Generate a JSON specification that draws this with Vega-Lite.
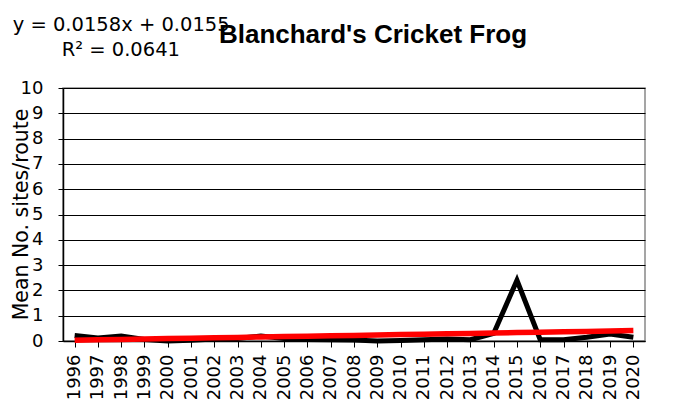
{
  "$schema": "https://vega.github.io/schema/vega-lite/v6.json",
  "width": 582,
  "height": 253,
  "autosize": {"type": "none"},
  "padding": {"left": 63, "top": 88, "right": 29, "bottom": 73},
  "background": "white",
  "config": {
    "font": "DejaVu Sans",
    "view": {"stroke": "#888888", "strokeWidth": 1.5},
    "axisY": {
      "titleFontSize": 20.5,
      "titleFontWeight": "normal",
      "titleColor": "black",
      "titleX": -42,
      "titleY": 126,
      "titleBaseline": "middle",
      "titleAlign": "center",
      "titleAngle": -90,
      "labelOverlap": false,
      "labelFontSize": 18,
      "labelColor": "black",
      "labelPadding": 15,
      "tickColor": "black",
      "tickSize": 5,
      "domainColor": "black",
      "domainWidth": 1.5,
      "grid": true,
      "gridColor": "black",
      "gridWidth": 1
    }
  },
  "data": {
    "values": [
      {"year": "1996", "mean": 0.22, "trend": 0.031},
      {"year": "1997", "mean": 0.12, "trend": 0.047},
      {"year": "1998", "mean": 0.2, "trend": 0.063},
      {"year": "1999", "mean": 0.06, "trend": 0.079},
      {"year": "2000", "mean": 0.0, "trend": 0.095},
      {"year": "2001", "mean": 0.03, "trend": 0.110},
      {"year": "2002", "mean": 0.08, "trend": 0.126},
      {"year": "2003", "mean": 0.1, "trend": 0.142},
      {"year": "2004", "mean": 0.2, "trend": 0.158},
      {"year": "2005", "mean": 0.1, "trend": 0.174},
      {"year": "2006", "mean": 0.06, "trend": 0.189},
      {"year": "2007", "mean": 0.05, "trend": 0.205},
      {"year": "2008", "mean": 0.04, "trend": 0.221},
      {"year": "2009", "mean": 0.0, "trend": 0.237},
      {"year": "2010", "mean": 0.02, "trend": 0.253},
      {"year": "2011", "mean": 0.05, "trend": 0.268},
      {"year": "2012", "mean": 0.08, "trend": 0.284},
      {"year": "2013", "mean": 0.05, "trend": 0.300},
      {"year": "2014", "mean": 0.3, "trend": 0.316},
      {"year": "2015", "mean": 2.4, "trend": 0.332},
      {"year": "2016", "mean": 0.05, "trend": 0.347},
      {"year": "2017", "mean": 0.05, "trend": 0.363},
      {"year": "2018", "mean": 0.15, "trend": 0.379},
      {"year": "2019", "mean": 0.28, "trend": 0.395},
      {"year": "2020", "mean": 0.15, "trend": 0.411}
    ]
  },
  "encoding": {
    "x": {
      "field": "year",
      "type": "ordinal",
      "scale": {"paddingInner": 0, "paddingOuter": 0},
      "axis": {
        "title": null,
        "labelAngle": -90,
        "labelAlign": "right",
        "labelBaseline": "middle",
        "labelFontSize": 18,
        "labelColor": "black",
        "labelPadding": 7,
        "bandPosition": 0,
        "ticks": true,
        "tickColor": "black",
        "tickSize": 6,
        "domainColor": "black",
        "domainWidth": 1.5,
        "grid": false
      }
    }
  },
  "layer": [
    {
      "mark": {"type": "line", "color": "black", "strokeWidth": 5, "clip": false},
      "encoding": {
        "y": {
          "field": "mean",
          "type": "quantitative",
          "scale": {"domain": [0, 10], "nice": false},
          "axis": {"title": "Mean No. sites/route", "values": [0, 1, 2, 3, 4, 5, 6, 7, 8, 9, 10]}
        }
      }
    },
    {
      "mark": {"type": "line", "color": "#ff0000", "strokeWidth": 5.5, "clip": false},
      "encoding": {
        "y": {
          "field": "trend",
          "type": "quantitative",
          "scale": {"domain": [0, 10], "nice": false},
          "axis": {"title": "Mean No. sites/route", "values": [0, 1, 2, 3, 4, 5, 6, 7, 8, 9, 10]}
        }
      }
    },
    {
      "data": {"values": [{"label": "Blanchard's Cricket Frog"}]},
      "mark": {"type": "text", "font": "Liberation Sans", "fontSize": 26, "fontWeight": "bold", "align": "center", "baseline": "alphabetic", "clip": false, "dx": 19},
      "encoding": {
        "x": {"datum": "2008"},
        "y": {"datum": 11.78, "type": "quantitative", "scale": {"domain": [0, 10], "nice": false}, "axis": {"title": "Mean No. sites/route", "values": [0, 1, 2, 3, 4, 5, 6, 7, 8, 9, 10]}},
        "text": {"field": "label"}
      }
    },
    {
      "data": {"values": [{"label": "y = 0.0158x + 0.0155"}]},
      "mark": {"type": "text", "fontSize": 19.5, "align": "left", "baseline": "alphabetic", "clip": false, "dx": -62},
      "encoding": {
        "x": {"datum": "1996"},
        "y": {"datum": 12.25, "type": "quantitative", "scale": {"domain": [0, 10], "nice": false}, "axis": {"title": "Mean No. sites/route", "values": [0, 1, 2, 3, 4, 5, 6, 7, 8, 9, 10]}},
        "text": {"field": "label"}
      }
    },
    {
      "data": {"values": [{"label": "R² = 0.0641"}]},
      "mark": {"type": "text", "fontSize": 19.5, "align": "left", "baseline": "alphabetic", "clip": false, "dx": -13},
      "encoding": {
        "x": {"datum": "1996"},
        "y": {"datum": 11.26, "type": "quantitative", "scale": {"domain": [0, 10], "nice": false}, "axis": {"title": "Mean No. sites/route", "values": [0, 1, 2, 3, 4, 5, 6, 7, 8, 9, 10]}},
        "text": {"field": "label"}
      }
    }
  ]
}
